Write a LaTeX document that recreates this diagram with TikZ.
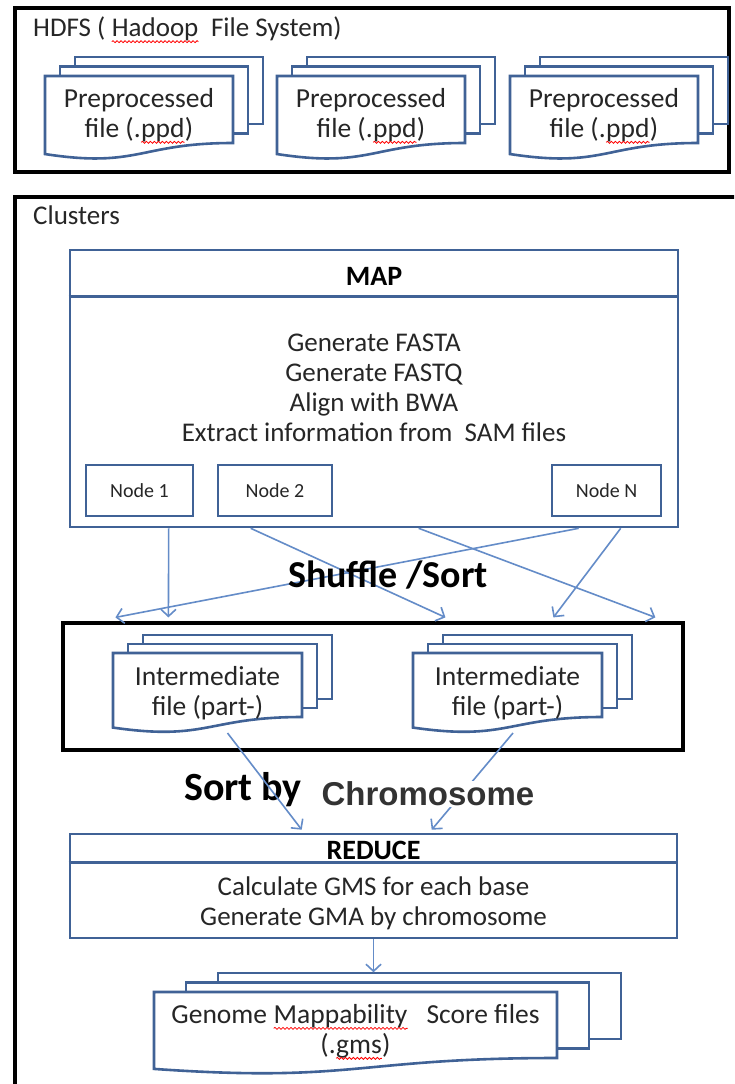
\documentclass[tikz,border=0pt]{standalone}
\usepackage{fontspec}
\setmainfont{Carlito}
\newfontfamily\arialfont{Liberation Sans}
\usetikzlibrary{arrows.meta,decorations.pathmorphing}

\definecolor{boxblue}{RGB}{64,98,150}
\definecolor{arrowblue}{RGB}{100,140,200}
\definecolor{ink}{RGB}{38,38,38}
\definecolor{inkgray}{RGB}{51,51,51}

\tikzset{
  frame/.style={draw=black, line width=3.2pt},
  bluebox/.style={draw=boxblue, line width=2.6pt, fill=white},
  docline/.style={draw=boxblue, line width=2.6pt, fill=white},
  bodytext/.style={text=ink, align=center, inner sep=0pt,
    font=\fontsize{27}{30}\selectfont},
  doctext/.style={text=ink, align=center, inner sep=0pt,
    font=\fontsize{27.5}{30}\selectfont},
  smalltext/.style={text=ink, font=\fontsize{20}{24}\selectfont},
  headtext/.style={text=black, inner sep=0pt, font=\bfseries\fontsize{28}{32}\selectfont},
  flow/.style={draw=arrowblue, line width=1.6pt,
    -{Straight Barb[length=7pt,width=15pt,line width=1.6pt]}},
  squiggle/.style={draw=red, line width=0.8pt, decorate,
    decoration={snake, amplitude=1pt, segment length=4pt}},
}

% word with a wavy red underline
\newcommand\spellmark[1]{\tikz[baseline=(sw.base)]{%
  \node[inner sep=0pt,outer sep=0pt] (sw) {#1};%
  \draw[squiggle] ([yshift=-5pt]sw.base west) -- ([yshift=-5pt]sw.base east);}}

% stack of three documents: name, x, y, width, edge height, dx, dy, text
\newcommand\docstack[8]{%
  \begin{scope}[shift={(#2,#3)}]
    \filldraw[docline] ({2*#6},{-2*#7}) rectangle ++(#4,#5);
    \filldraw[docline] (#6,-#7) rectangle ++(#4,#5);
    \filldraw[docline] (0,0) -- (#4,0) -- (#4,#5)
      .. controls ({0.5*#4},#5) and ({0.5*#4},{1.38*#5}) .. (0,{1.165*#5}) -- cycle;
    \node[doctext] (#1) at ({0.5*#4},40) {#8};
  \end{scope}}

\begin{document}
\begin{tikzpicture}[x=1pt,y=-1pt]
  \clip (0,0) rectangle (734,1084);
  \fill[white] (0,0) rectangle (734,1084);

  % ---------- HDFS ----------
  \node[frame, minimum width=714pt, minimum height=164pt, inner sep=0pt] (hdfs) at (372,90) {};
  \node[bodytext, anchor=west] (hdfstitle) at (33,30) {HDFS ( \spellmark{Hadoop}\ \ File System)};
  \docstack{pre1}{45}{76}{188}{67}{15}{9.5}{Preprocessed\\file (.\spellmark{ppd})}
  \docstack{pre2}{277}{76}{188}{67}{15}{9.5}{Preprocessed\\file (.\spellmark{ppd})}
  \docstack{pre3}{510}{76}{188}{67}{15}{9.5}{Preprocessed\\file (.\spellmark{ppd})}

  % ---------- Clusters ----------
  \draw[frame] (745,197) -- (15,197) -- (15,1095);
  \node[bodytext, anchor=west] (clusters) at (33,215) {Clusters};

  % MAP
  \node[bluebox, minimum width=608pt, minimum height=277pt, inner sep=0pt] (map) at (374,388.5) {};
  \draw[draw=boxblue, line width=2.6pt] ([yshift=-48pt]map.north west) -- ([yshift=-48pt]map.north east);
  \node[headtext] (maptitle) at (374,276) {MAP};
  \node[bodytext] (maptasks) at (374,388) {Generate FASTA\\Generate FASTQ\\Align with BWA\\Extract information from\ \ SAM files};
  \node[bluebox, smalltext, minimum width=107pt, minimum height=51pt, inner sep=0pt] (node1) at (139.5,490.5) {Node 1};
  \node[bluebox, smalltext, minimum width=114pt, minimum height=51pt, inner sep=0pt] (node2) at (275,490.5) {Node 2};
  \node[bluebox, smalltext, minimum width=109pt, minimum height=51pt, inner sep=0pt] (nodeN) at (606.5,490.5) {Node N};

  % intermediate files
  \node[frame, minimum width=620pt, minimum height=127pt, inner sep=0pt] (inter) at (373,686.5) {};
  \docstack{inter1}{113}{653}{189}{64}{15}{9}{Intermediate\\file (part-)}
  \docstack{inter2}{413}{653}{189}{64}{15}{9}{Intermediate\\file (part-)}

  % shuffle arrows
  \coordinate (m1) at ([xshift=100pt]map.south west);
  \coordinate (m2) at ([xshift=182pt]map.south west);
  \coordinate (m3) at ([xshift=350pt]map.south west);
  \coordinate (m4) at ([xshift=510pt]map.south west);
  \coordinate (m5) at ([xshift=552pt]map.south west);
  \coordinate (t1) at ([xshift=107pt,yshift=4pt]inter.north west);
  \coordinate (t2) at ([xshift=384pt,yshift=4pt]inter.north west);
  \coordinate (t3) at ([xshift=594pt,yshift=4pt]inter.north west);
  \coordinate (t4) at ([xshift=54pt,yshift=4pt]inter.north west);
  \coordinate (t5) at ([xshift=492pt,yshift=4pt]inter.north west);
  \draw[flow] (m1) -- (t1);
  \draw[flow] (m2) -- (t2);
  \draw[flow] (m3) -- (t3);
  \draw[flow] (m4) -- (t4);
  \draw[flow] (m5) -- (t5);
  \node[headtext, font=\bfseries\fontsize{38}{42}\selectfont] (shuffle) at (388,575) {Shuffle /Sort};

  % REDUCE
  \node[bluebox, minimum width=607pt, minimum height=104pt, inner sep=0pt] (reduce) at (373.5,886) {};
  \draw[draw=boxblue, line width=2.6pt] ([yshift=-30pt]reduce.north west) -- ([yshift=-30pt]reduce.north east);
  \node[headtext] (reducetitle) at (373.5,850) {REDUCE};
  \node[bodytext] (reducetasks) at (373.5,903) {Calculate GMS for each base\\Generate GMA by chromosome};

  % sort by chromosome
  \coordinate (o1) at ([xshift=20pt,yshift=-40pt]inter1.center);
  \coordinate (o2) at ([xshift=5.5pt,yshift=-40pt]inter2.center);
  \coordinate (r1) at ([xshift=233pt,yshift=3pt]reduce.north west);
  \coordinate (r2) at ([xshift=363pt,yshift=3pt]reduce.north west);
  \node[headtext, font=\bfseries\fontsize{40}{44}\selectfont] (sortby) at (243,790) {Sort by};
  \draw[flow] (o1) -- (r1);
  \draw[flow] (o2) -- (r2);
  \node[fill=white, inner sep=1pt, text=inkgray, font=\arialfont\bfseries\fontsize{33}{38}\selectfont] (chrom) at (428,794) {Chromosome};

  % output files
  \docstack{gms}{154}{992}{403}{66}{32}{9.5}{Genome \spellmark{Mappability}\ \ \ Score files\\(.\spellmark{gms})}
  \draw[flow] (reduce.south) -- ++(0,33);
\end{tikzpicture}
\end{document}
